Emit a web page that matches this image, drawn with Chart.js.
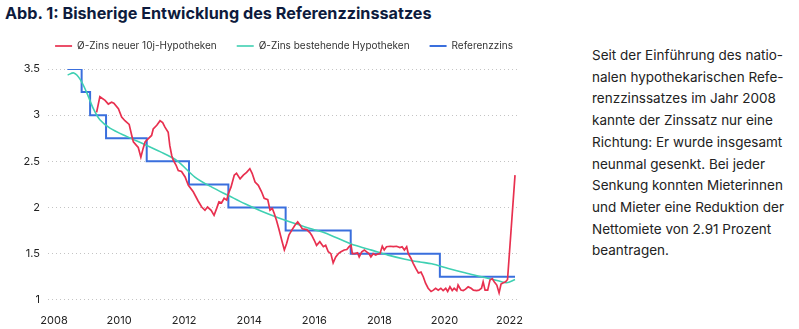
<!DOCTYPE html>
<html lang="de">
<head>
    <meta charset="UTF-8">
    <title>Referenzzinssatz</title>
    <script src="https://cdn.jsdelivr.net/npm/chart.js"></script>
    <style>
        body {
            margin: 0;
            width: 799px;
            height: 329px;
            background: #fff;
            font-family: Inter, "Noto Sans", sans-serif;
            position: relative;
            overflow: hidden;
        }

        h2 {
            position: absolute;
            left: 5px;
            top: 3px;
            margin: 0;
            font-size: 16.2px;
            font-weight: 700;
            color: #0d1b3d;
        }

        .chart-box {
            position: absolute;
            left: 0;
            top: 21px;
            width: 568px;
            height: 320px;
        }

        .note {
            position: absolute;
            left: 592px;
            top: 45px;
            margin: 0;
            font-size: 13.5px;
            line-height: 21.7px;
            color: #222;
        }
    </style>
</head>
<body>

    <h2>Abb. 1: Bisherige Entwicklung des Referenzzinssatzes</h2>

    <div class="chart-box">
        <canvas id="zinsChart"></canvas>
    </div>

    <p class="note">
        Seit der Einführung des natio-<br>
        nalen hypothekarischen Refe-<br>
        renzzinssatzes im Jahr 2008<br>
        kannte der Zinssatz nur eine<br>
        Richtung: Er wurde insgesamt<br>
        neunmal gesenkt. Bei jeder<br>
        Senkung konnten Mieterinnen<br>
        und Mieter eine Reduktion der<br>
        Nettomiete von 2.91 Prozent<br>
        beantragen.
    </p>

    <script>
        // Ø-Zins neuer 10j-Hypotheken (Jahr, Prozent)
        const neuYears = [2009.31, 2009.41, 2009.57, 2009.67, 2009.77, 2009.84, 2009.98, 2010.08, 2010.18, 2010.31,
            2010.39, 2010.44, 2010.54, 2010.59, 2010.67, 2010.74, 2010.80, 2010.90, 2011.00, 2011.05,
            2011.16, 2011.26, 2011.34, 2011.41, 2011.51, 2011.56, 2011.62, 2011.67, 2011.75, 2011.82,
            2011.92, 2012.03, 2012.13, 2012.28, 2012.43, 2012.54, 2012.64, 2012.72, 2012.83, 2012.92,
            2013.00, 2013.07, 2013.15, 2013.23, 2013.31, 2013.36, 2013.44, 2013.54, 2013.61, 2013.72,
            2013.82, 2013.92, 2014.02, 2014.09, 2014.18, 2014.28, 2014.38, 2014.46, 2014.57, 2014.64,
            2014.71, 2014.77, 2014.84, 2014.91, 2015.00, 2015.08, 2015.15, 2015.22, 2015.31, 2015.41,
            2015.49, 2015.56, 2015.63, 2015.77, 2015.87, 2015.92, 2016.00, 2016.07, 2016.17, 2016.28,
            2016.35, 2016.43, 2016.51, 2016.58, 2016.66, 2016.74, 2016.82, 2016.92, 2017.00, 2017.07,
            2017.13, 2017.17, 2017.25, 2017.33, 2017.38, 2017.46, 2017.54, 2017.61, 2017.68, 2017.74,
            2017.81, 2017.89, 2017.95, 2018.02, 2018.09, 2018.15, 2018.22, 2018.33, 2018.43, 2018.53,
            2018.63, 2018.70, 2018.77, 2018.84, 2018.89, 2018.97, 2019.04, 2019.12, 2019.20, 2019.28,
            2019.35, 2019.42, 2019.50, 2019.59, 2019.66, 2019.73, 2019.81, 2019.89, 2019.96, 2020.04,
            2020.10, 2020.17, 2020.24, 2020.30, 2020.38, 2020.42, 2020.51, 2020.58, 2020.65, 2020.73,
            2020.82, 2020.89, 2020.99, 2021.06, 2021.14, 2021.19, 2021.25, 2021.33, 2021.40, 2021.47,
            2021.53, 2021.61, 2021.68, 2021.74, 2021.81, 2021.88, 2021.94, 2022.17];
        const neuRate = [3.03, 3.20, 3.16, 3.12, 3.14, 3.13, 3.07, 2.98, 2.94, 2.90,
            2.78, 2.71, 2.67, 2.65, 2.545, 2.64, 2.71, 2.745, 2.78, 2.85,
            2.89, 2.94, 2.92, 2.87, 2.815, 2.67, 2.56, 2.51, 2.46, 2.40,
            2.39, 2.33, 2.24, 2.17, 2.07, 2.005, 1.97, 2.005, 1.97, 1.915,
            1.99, 2.06, 2.05, 2.10, 2.08, 2.15, 2.22, 2.35, 2.37, 2.31,
            2.35, 2.38, 2.42, 2.37, 2.275, 2.24, 2.17, 2.10, 2.085, 1.97,
            1.99, 1.935, 1.86, 1.77, 1.645, 1.54, 1.61, 1.70, 1.755, 1.81,
            1.845, 1.81, 1.77, 1.76, 1.725, 1.70, 1.645, 1.59, 1.63, 1.575,
            1.59, 1.52, 1.50, 1.40, 1.465, 1.50, 1.52, 1.54, 1.545, 1.575,
            1.59, 1.50, 1.50, 1.51, 1.465, 1.52, 1.54, 1.52, 1.50, 1.465,
            1.50, 1.485, 1.495, 1.50, 1.58, 1.54, 1.575, 1.58, 1.575, 1.58,
            1.565, 1.575, 1.54, 1.575, 1.50, 1.45, 1.395, 1.34, 1.29, 1.30,
            1.25, 1.18, 1.125, 1.09, 1.105, 1.125, 1.105, 1.125, 1.10, 1.125,
            1.09, 1.14, 1.10, 1.125, 1.10, 1.16, 1.105, 1.10, 1.115, 1.14,
            1.125, 1.105, 1.10, 1.105, 1.125, 1.195, 1.105, 1.105, 1.215, 1.23,
            1.195, 1.16, 1.075, 1.17, 1.185, 1.195, 1.22, 2.35];

        // Ø-Zins bestehende Hypotheken
        const bestYears = [2008.42, 2008.61, 2008.80, 2009.00, 2009.21, 2009.41, 2009.72, 2010.23, 2010.74, 2011.26,
            2011.77, 2012.33, 2012.85, 2013.36, 2013.87, 2014.38, 2014.89, 2015.41, 2015.87, 2016.23,
            2016.74, 2017.25, 2017.76, 2018.27, 2018.79, 2019.25, 2019.61, 2020.12, 2020.63, 2021.14,
            2021.65, 2021.91, 2022.17];
        const bestRate = [3.435, 3.457, 3.39, 3.25, 3.07, 2.95, 2.86, 2.77, 2.69, 2.605,
            2.51, 2.33, 2.22, 2.13, 2.04, 1.96, 1.89, 1.826, 1.772, 1.736,
            1.664, 1.59, 1.538, 1.484, 1.44, 1.41, 1.39, 1.34, 1.293, 1.25,
            1.206, 1.185, 1.22];

        // Referenzzins: Zeitpunkt jeder Anpassung und neuer Satz
        const refYears = [2008.41, 2008.85, 2009.11, 2009.60, 2010.85, 2012.15, 2013.36, 2015.12, 2017.12, 2019.86, 2022.17];
        const refRate = [3.5, 3.25, 3.0, 2.75, 2.5, 2.25, 2.0, 1.75, 1.5, 1.25, 1.25];

        const xTicks = [2008, 2010, 2012, 2014, 2016, 2018, 2020, 2022];
        const yTicks = [1, 1.5, 2, 2.5, 3, 3.5];

        const toPoints = (xs, ys) => xs.map((x, i) => ({ x: x, y: ys[i] }));

        const tickFont = { family: 'Inter', size: 11 };

        // etwas mehr Abstand unter der Legende
        const legendGap = {
            id: 'legendGap',
            beforeInit(chart) {
                const fit = chart.legend.fit;
                chart.legend.fit = function () {
                    fit.bind(chart.legend)();
                    this.height += 8;
                };
            }
        };

        const ctx = document.getElementById('zinsChart').getContext('2d');
        new Chart(ctx, {
            type: 'line',
            data: {
                datasets: [{
                    label: 'Ø-Zins neuer 10j-Hypotheken',
                    data: toPoints(neuYears, neuRate),
                    borderColor: '#e8304f',
                    backgroundColor: '#e8304f',
                    borderWidth: 1.7,
                    pointRadius: 0,
                    tension: 0
                }, {
                    label: 'Ø-Zins bestehende Hypotheken',
                    data: toPoints(bestYears, bestRate),
                    borderColor: '#3fd0b2',
                    backgroundColor: '#3fd0b2',
                    borderWidth: 1.6,
                    pointRadius: 0,
                    tension: 0.3
                }, {
                    label: 'Referenzzins',
                    data: toPoints(refYears, refRate),
                    borderColor: '#3a6fdd',
                    backgroundColor: '#3a6fdd',
                    borderWidth: 2,
                    pointRadius: 0,
                    stepped: 'before'
                }]
            },
            plugins: [legendGap],
            options: {
                responsive: true,
                maintainAspectRatio: false,
                animation: false,
                layout: { padding: 0 },
                plugins: {
                    legend: {
                        position: 'top',
                        labels: {
                            usePointStyle: true,
                            pointStyle: 'line',
                            pointStyleWidth: 17,
                            color: '#333',
                            font: { family: 'Inter', size: 10 },
                            padding: 20
                        }
                    },
                    tooltip: { enabled: false }
                },
                scales: {
                    x: {
                        type: 'linear',
                        min: 2007.816,
                        max: 2022.323,
                        afterBuildTicks: (scale) => {
                            scale.ticks = xTicks.map(v => ({ value: v }));
                        },
                        ticks: {
                            color: '#222',
                            font: tickFont,
                            maxRotation: 0,
                            padding: 14,
                            callback: (v) => String(v)
                        },
                        grid: { display: false, drawTicks: false },
                        border: { display: false }
                    },
                    y: {
                        min: 1,
                        max: 3.5,
                        afterBuildTicks: (scale) => {
                            scale.ticks = yTicks.map(v => ({ value: v }));
                        },
                        afterFit: (scale) => { scale.width = 48; },
                        ticks: {
                            color: '#222',
                            font: tickFont,
                            padding: 8,
                            callback: (v) => String(v)
                        },
                        grid: {
                            color: '#c4c4c4',
                            lineWidth: 1,
                            drawTicks: false
                        },
                        border: { display: false, dash: [1, 3] }
                    },
                    // leere rechte Achse, hält den Plotbereich schmal
                    yRight: {
                        position: 'right',
                        afterFit: (scale) => { scale.width = 48; },
                        ticks: { display: false },
                        grid: { display: false, drawTicks: false },
                        border: { display: false }
                    }
                }
            }
        });
    </script>

</body>
</html>
